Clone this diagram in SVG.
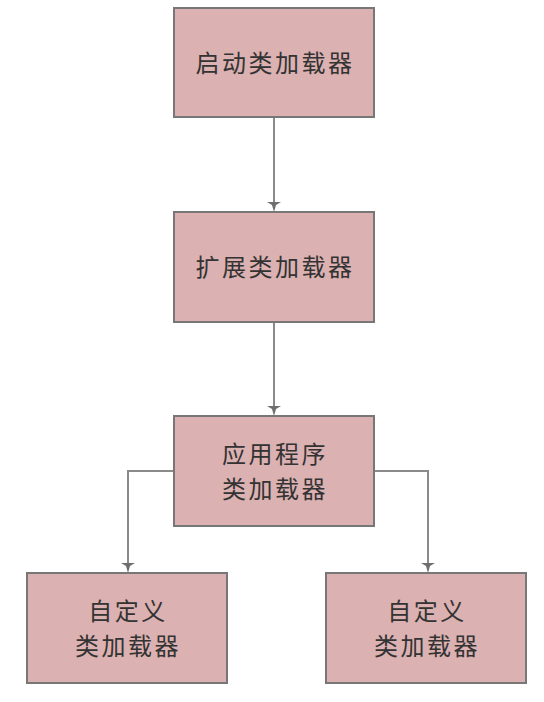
<svg xmlns="http://www.w3.org/2000/svg" width="544" height="702" viewBox="0 0 544 702">
<style>
.box{fill:#dcb1b1;stroke:#777;stroke-width:2}
.lbl{font-family:"Noto Sans CJK SC","Noto Sans",sans-serif;font-size:24px;letter-spacing:2.5px;fill:#333;text-anchor:middle}
.edge{fill:none;stroke:#8a8a8a;stroke-width:2}
.head{fill:#6e6e6e}
</style>
<rect width="544" height="702" fill="#fff"/>
<g id="connectors">
<path class="edge" d="M274,117 L274,205"/>
<path class="head" d="M267,202 L281,202 L276,205 L274,212 L272,205 Z"/>
<path class="edge" d="M274,322 L274,409"/>
<path class="head" d="M267,406 L281,406 L276,409 L274,416 L272,409 Z"/>
<path class="edge" d="M174,471 L128,471 L128,566"/>
<path class="head" d="M121,563 L135,563 L130,566 L128,573 L126,566 Z"/>
<path class="edge" d="M374,471 L428,471 L428,566"/>
<path class="head" d="M421,563 L435,563 L430,566 L428,573 L426,566 Z"/>
</g>
<g id="bootstrap">
<rect class="box" x="174" y="8" width="200" height="109"/>
<text class="lbl" x="275" y="71.5">启动类加载器</text>
</g>
<g id="extension">
<rect class="box" x="174" y="212" width="200" height="110"/>
<text class="lbl" x="275" y="276">扩展类加载器</text>
</g>
<g id="application">
<rect class="box" x="174" y="416" width="200" height="110"/>
<text class="lbl" x="275" y="462.5">应用程序</text>
<text class="lbl" x="275" y="497.5">类加载器</text>
</g>
<g id="custom1">
<rect class="box" x="27" y="573" width="200" height="110"/>
<text class="lbl" x="128" y="619.5">自定义</text>
<text class="lbl" x="128" y="654.5">类加载器</text>
</g>
<g id="custom2">
<rect class="box" x="326" y="573" width="200" height="110"/>
<text class="lbl" x="427" y="619.5">自定义</text>
<text class="lbl" x="427" y="654.5">类加载器</text>
</g>
</svg>
